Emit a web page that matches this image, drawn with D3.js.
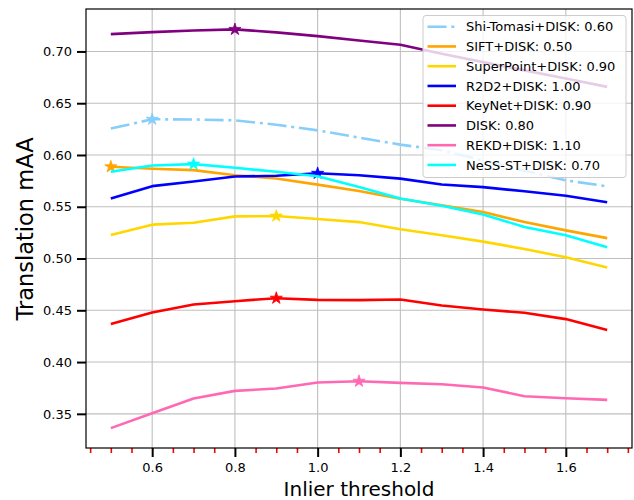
<!DOCTYPE html>
<html>
<head>
<meta charset="utf-8">
<script src="https://cdn.jsdelivr.net/npm/d3@7"></script>
<style>
  html, body { margin: 0; padding: 0; background: #fff; }
  svg { display: block; font-family: "DejaVu Sans", sans-serif; }
</style>
</head>
<body>
<svg id="chart" width="634" height="500"></svg>
<script>
// ---- data ----
const thresholds = [0.5, 0.6, 0.7, 0.8, 0.9, 1.0, 1.1, 1.2, 1.3, 1.4, 1.5, 1.6, 1.7];
const seriesNames = ["Shi-Tomasi+DISK", "SIFT+DISK", "SuperPoint+DISK", "R2D2+DISK", "KeyNet+DISK", "DISK", "REKD+DISK", "NeSS-ST+DISK"];
const shiTomasi = [0.6255, 0.6345, 0.6343, 0.6335, 0.6292, 0.6238, 0.6168, 0.6100, 0.6046, 0.5947, 0.5848, 0.5755, 0.5697];
const sift      = [0.5886, 0.5867, 0.5854, 0.5805, 0.5773, 0.5714, 0.5652, 0.5578, 0.5514, 0.5449, 0.5352, 0.5272, 0.5197];
const superPoint= [0.5227, 0.5327, 0.5346, 0.5407, 0.5410, 0.5381, 0.5352, 0.5282, 0.5224, 0.5163, 0.5092, 0.5012, 0.4913];
const r2d2      = [0.5580, 0.5699, 0.5744, 0.5792, 0.5799, 0.5823, 0.5804, 0.5772, 0.5715, 0.5690, 0.5649, 0.5606, 0.5544];
const keyNet    = [0.4367, 0.4479, 0.4556, 0.4588, 0.4617, 0.4601, 0.4598, 0.4604, 0.4547, 0.4508, 0.4476, 0.4415, 0.4309];
const disk      = [0.7167, 0.7187, 0.7203, 0.7213, 0.7184, 0.7148, 0.7106, 0.7064, 0.6977, 0.6897, 0.6817, 0.6738, 0.6658];
const rekd      = [0.3362, 0.3506, 0.3648, 0.3722, 0.3744, 0.3802, 0.3815, 0.3799, 0.3786, 0.3754, 0.3670, 0.3651, 0.3635];
const nessST    = [0.5838, 0.5899, 0.5912, 0.5876, 0.5838, 0.5795, 0.5690, 0.5580, 0.5510, 0.5425, 0.5305, 0.5225, 0.5108];
const bestThreshold = [0.6, 0.5, 0.9, 1.0, 0.9, 0.8, 1.1, 0.7];
const xTicks = [0.6, 0.8, 1.0, 1.2, 1.4, 1.6];
const xMinorTicks = [0.45, 0.5, 0.55, 0.65, 0.7, 0.75, 0.85, 0.9, 0.95, 1.05, 1.1, 1.15, 1.25, 1.3, 1.35, 1.45, 1.5, 1.55, 1.65, 1.7, 1.75];
const yTicks = [0.35, 0.40, 0.45, 0.50, 0.55, 0.60, 0.65, 0.70];
const xLabel = "Inlier threshold";
const yLabel = "Translation mAA";

const allValues = [shiTomasi, sift, superPoint, r2d2, keyNet, disk, rekd, nessST];
const colors = ["#87cefa", "#ffa500", "#ffd700", "#0000ff", "#ff0000", "#800080", "#ff69b4", "#00ffff"];
const dashes = ["19,4.8,3,4.8", null, null, null, null, null, null, null];

// ---- layout ----
const L = 86, R = 632, T = 9, B = 448;
const svg = d3.select("#chart");

const x = d3.scaleLinear().domain([0.44, 1.76]).range([L, R]);
const y = d3.scaleLinear().domain([0.317, 0.741]).range([B, T]);

// grid
const grid = svg.append("g").attr("stroke", "#bfbfbf").attr("stroke-width", 1.1);
grid.selectAll("line.gx").data(xTicks).join("line")
  .attr("x1", d => x(d)).attr("x2", d => x(d)).attr("y1", T).attr("y2", B);
grid.selectAll("line.gy").data(yTicks).join("line")
  .attr("y1", d => y(d)).attr("y2", d => y(d)).attr("x1", L).attr("x2", R);

// lines
const line = d3.line().x((d, i) => x(thresholds[i])).y(d => y(d));
const series = seriesNames.map((name, k) => ({
  name, values: allValues[k], color: colors[k], dash: dashes[k], best: bestThreshold[k]
}));

const lg = svg.append("g");
series.forEach(s => {
  lg.append("path")
    .attr("d", line(s.values))
    .attr("fill", "none")
    .attr("stroke", s.color)
    .attr("stroke-width", 2.6)
    .attr("stroke-linejoin", "round")
    .attr("stroke-dasharray", s.dash);
  const bi = thresholds.findIndex(t => Math.abs(t - s.best) < 1e-9);
  lg.append("path")
    .attr("d", d3.symbol().type(d3.symbolStar).size(46)())
    .attr("transform", `translate(${x(thresholds[bi])},${y(s.values[bi])})`)
    .attr("fill", s.color)
    .attr("stroke", s.color)
    .attr("stroke-width", 0.8);
});

// axes
const xAxis = d3.axisBottom(x).tickValues(xTicks).tickFormat(d3.format(".1f")).tickSize(9).tickPadding(6);
const gx = svg.append("g").attr("transform", `translate(0,${B})`).call(xAxis);
gx.select(".domain").remove();
gx.selectAll(".tick line").attr("stroke", "#000").attr("stroke-width", 2);
gx.selectAll(".tick text").attr("font-size", 13).attr("fill", "#000").attr("font-family", "DejaVu Sans");

const xMinor = d3.axisBottom(x).tickValues(xMinorTicks).tickFormat("").tickSize(5);
const gxm = svg.append("g").attr("transform", `translate(0,${B})`).call(xMinor);
gxm.select(".domain").remove();
gxm.selectAll(".tick line").attr("stroke", "#ff0000").attr("stroke-width", 1.6);

const yAxis = d3.axisLeft(y).tickValues(yTicks).tickFormat(d3.format(".2f")).tickSize(9).tickPadding(5);
const gy = svg.append("g").attr("transform", `translate(${L},0)`).call(yAxis);
gy.select(".domain").remove();
gy.selectAll(".tick line").attr("stroke", "#000").attr("stroke-width", 2);
gy.selectAll(".tick text").attr("font-size", 13).attr("fill", "#000").attr("font-family", "DejaVu Sans");

// frame
svg.append("rect").attr("x", L).attr("y", T).attr("width", R - L).attr("height", B - T)
  .attr("fill", "none").attr("stroke", "#000").attr("stroke-width", 1.2);

// axis labels
svg.append("text").attr("x", 359).attr("y", 496).attr("text-anchor", "middle")
  .attr("font-size", 20).attr("fill", "#000").text(xLabel);
svg.append("text").attr("transform", "translate(33,229) rotate(-90)").attr("text-anchor", "middle")
  .attr("font-size", 22.5).attr("fill", "#000").text(yLabel);

// legend
const legX = 423, legY = 15.5, legW = 203, legH = 162;
const leg = svg.append("g");
leg.append("rect").attr("x", legX).attr("y", legY).attr("width", legW).attr("height", legH)
  .attr("rx", 3).attr("fill", "#fff").attr("fill-opacity", 0.8)
  .attr("stroke", "#cccccc").attr("stroke-width", 1);
series.forEach((s, k) => {
  const cy = 26.7 + k * 19.75;
  leg.append("line").attr("x1", 427.5).attr("x2", 456).attr("y1", cy).attr("y2", cy)
    .attr("stroke", s.color).attr("stroke-width", 2.6).attr("stroke-dasharray", s.dash);
  leg.append("text").attr("x", 466).attr("y", cy).attr("dy", "0.36em")
    .attr("font-size", 13).attr("fill", "#000")
    .text(`${s.name}: ${d3.format(".2f")(s.best)}`);
});
</script>
</body>
</html>
